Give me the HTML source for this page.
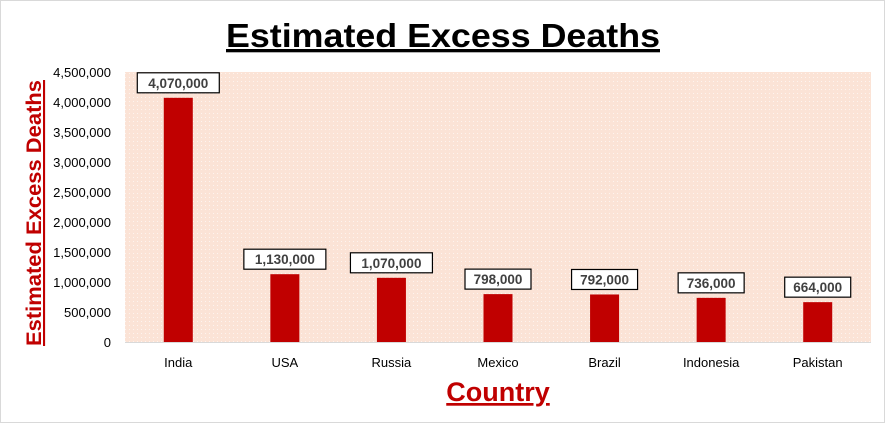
<!DOCTYPE html>
<html><head><meta charset="utf-8"><style>
body{margin:0;background:#fff;font-family:"Liberation Sans",sans-serif}
#wrap{position:relative;width:883px;height:421px;border:1px solid #d9d9d9;background:#fff}
</style></head><body>
<div id="wrap">
<svg id="chart" width="883" height="421">
<defs><pattern id="dots" width="4" height="4" patternUnits="userSpaceOnUse"><rect width="4" height="4" fill="#fbe3d6"/><rect width="1" height="1" fill="#fff" opacity="0.6"/></pattern></defs>
<text x="442" y="46" text-anchor="middle" font-size="33" font-weight="bold" text-decoration="underline" fill="#000" textLength="434" lengthAdjust="spacingAndGlyphs">Estimated Excess Deaths</text>
<rect x="124" y="71" width="746" height="270" fill="url(#dots)"/>
<g id="yaxis"></g><g id="bars"></g><g id="xaxis"></g>
<text transform="translate(40,212) rotate(-90)" text-anchor="middle" font-size="21" font-weight="bold" fill="#c00000" text-decoration="underline" textLength="266" lengthAdjust="spacingAndGlyphs">Estimated Excess Deaths</text>
<text x="497" y="400" text-anchor="middle" font-size="27" font-weight="bold" fill="#c00000" text-decoration="underline">Country</text>
</svg></div>
<script>
const categories=["India","USA","Russia","Mexico","Brazil","Indonesia","Pakistan"];
const values=[4070000,1130000,1070000,798000,792000,736000,664000];
const valueLabels=["4,070,000","1,130,000","1,070,000","798,000","792,000","736,000","664,000"];
const ticks=[0,500000,1000000,1500000,2000000,2500000,3000000,3500000,4000000,4500000];
const NS="http://www.w3.org/2000/svg";
const plotLeft=124,plotRight=870,plotTop=71,plotBottom=341,maxV=4500000;
const yScale=v=>plotBottom-v/maxV*(plotBottom-plotTop);
const band=(plotRight-plotLeft)/categories.length;
const xScale=i=>plotLeft+band*(i+0.5);
function mk(t,a,p){const e=document.createElementNS(NS,t);for(const k in a)e.setAttribute(k,a[k]);p.appendChild(e);return e;}
const ya=document.getElementById('yaxis'),ba=document.getElementById('bars'),xa=document.getElementById('xaxis');
ticks.forEach(t=>{const e=mk('text',{x:110,y:yScale(t)+5,'text-anchor':'end','font-size':13,fill:'#000'},ya);e.textContent=t.toLocaleString('en-US');

});
const ax=mk('line',{x1:plotLeft,x2:plotRight,y1:plotBottom+0.5,y2:plotBottom+0.5,stroke:'#d9d9d9'},xa);


categories.forEach((c,i)=>{
const b=mk('rect',{x:xScale(i)-14.5,y:yScale(values[i]),width:29,height:plotBottom-yScale(values[i]),fill:'#c00000'},ba);


const w=valueLabels[i].length*8+10, ly=yScale(values[i])-25;
const r=mk('rect',{x:xScale(i)-w/2,y:ly,width:w,height:20,fill:'#fff',stroke:'#000','stroke-width':1.2},ba);


const t=mk('text',{x:xScale(i),y:ly+15,'text-anchor':'middle','font-size':13.5,'font-weight':'bold',fill:'#404040'},ba);t.textContent=valueLabels[i];


const l=mk('text',{x:xScale(i),y:366,'text-anchor':'middle','font-size':13,fill:'#000'},xa);l.textContent=c;


});
</script></body></html>
